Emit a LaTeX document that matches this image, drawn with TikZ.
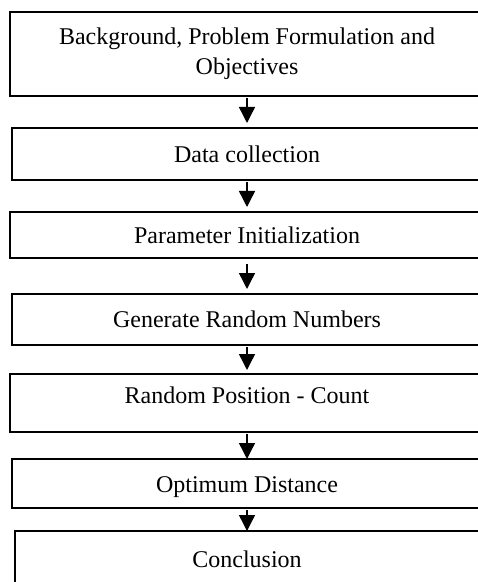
\documentclass[tikz,border=0pt]{standalone}
\usepackage{fontspec}
\setmainfont{Liberation Serif}
\usetikzlibrary{arrows.meta, positioning}

\begin{document}
\begin{tikzpicture}[
    node distance=16pt,
    stage/.style={
        draw, line width=0.7pt,
        rectangle, inner sep=0pt, outer sep=0pt,
        align=center, minimum width=#1,
        font=\fontsize{12}{15}\selectfont,
    },
    flow/.style={
        -{Triangle[width=8pt,length=8pt]}, line width=0.7pt,
        shorten <=1pt, shorten >=2.5pt,
    },
]
\useasboundingbox (0,0) rectangle (238.5pt,-291pt);

\node[stage=237pt, minimum height=42pt, anchor=north] (s1) at (123.5pt,-6pt) {%
    Background, Problem Formulation and\\Objectives%
};

\node[stage=235pt, minimum height=26pt, below=16pt of s1] (s2) {Data collection};

\node[stage=237pt, minimum height=23pt, below=16pt of s2] (s3) {Parameter Initialization};

\node[stage=235pt, minimum height=25.5pt, below=18pt of s3] (s4) {Generate Random Numbers};

\node[stage=237pt, minimum height=29pt, text depth=7.5pt, below=14.5pt of s4] (s5) {Random Position - Count};

\node[stage=235pt, minimum height=24.5pt, text height=11.5pt, below=13.5pt of s5] (s6) {Optimum Distance};

\node[stage=232pt, minimum height=28pt, below=11.5pt of s6] (s7) {Conclusion};

\draw[flow] (s1) -- (s2);
\draw[flow] (s2) -- (s3);
\draw[flow, shorten <=3pt] (s3) -- (s4);
\draw[flow, shorten >=2pt] (s4) -- (s5);
\draw[flow, shorten >=0pt] (s5) -- (s6);
\draw[flow, shorten >=0pt] (s6) -- (s7);

\end{tikzpicture}
\end{document}
